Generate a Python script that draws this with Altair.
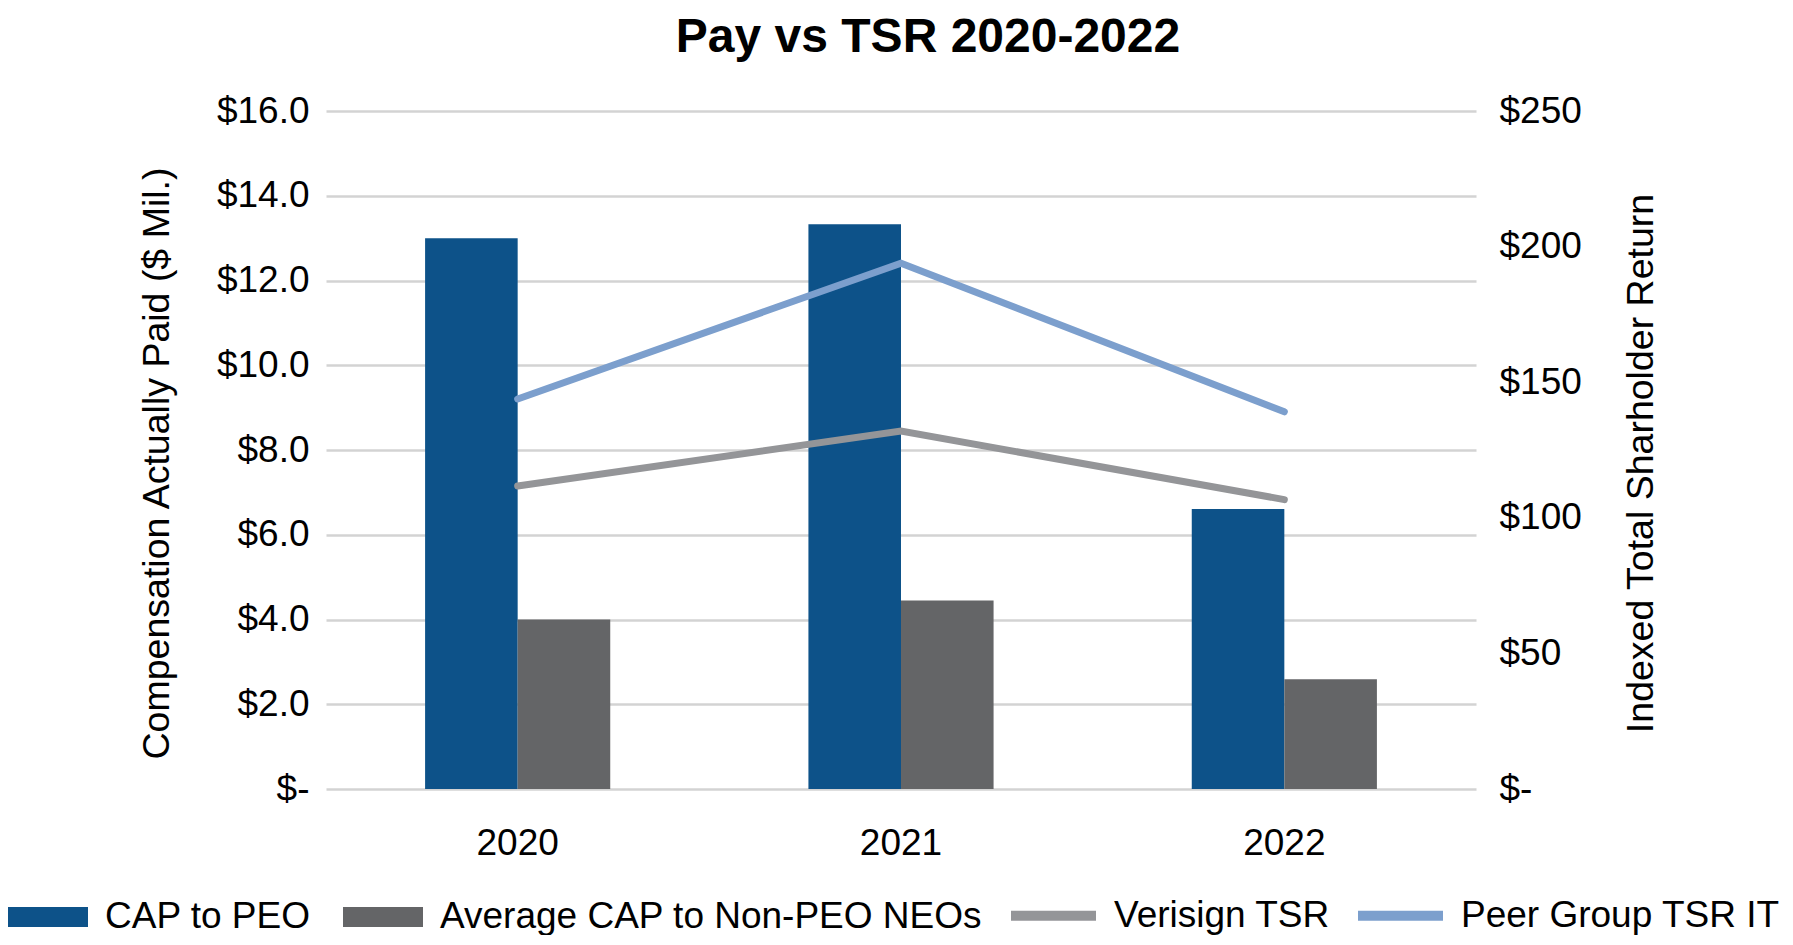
import altair as alt
import pandas as pd

years = ["2020", "2021", "2022"]
bar_series = ["CAP to PEO", "Average CAP to Non-PEO NEOs"]
cap_peo = [13.0, 13.33, 6.61]
cap_non_peo = [4.0, 4.45, 2.59]
line_series = ["Verisign TSR", "Peer Group TSR IT"]
verisign_tsr = [111.7, 132.0, 106.7]
peer_tsr = [143.8, 193.9, 139.1]

bar_colors = ["#0D5289", "#646567"]
line_colors = ["#949598", "#7C9FCD"]

FONT = "Liberation Sans"

bars_df = pd.DataFrame(
    [{"year": y, "series": bar_series[0], "value": v} for y, v in zip(years, cap_peo)]
    + [{"year": y, "series": bar_series[1], "value": v} for y, v in zip(years, cap_non_peo)]
)
lines_df = pd.DataFrame(
    [{"year": y, "series": line_series[0], "value": v} for y, v in zip(years, verisign_tsr)]
    + [{"year": y, "series": line_series[1], "value": v} for y, v in zip(years, peer_tsr)]
)

x_scale = alt.Scale(paddingInner=0.517, paddingOuter=0.2585)
x_axis = alt.Axis(title=None, labelFontSize=37, labelFont=FONT, labelColor="#000000",
                  labelAngle=0, labelPadding=36, ticks=False, domain=False, grid=False)

bars = alt.Chart(bars_df).mark_bar().encode(
    x=alt.X("year:N", scale=x_scale, axis=x_axis, sort=years),
    xOffset=alt.XOffset("series:N", sort=bar_series, scale=alt.Scale(paddingInner=0, paddingOuter=0)),
    y=alt.Y("value:Q", scale=alt.Scale(domain=[0, 16], nice=False),
            axis=alt.Axis(values=[0, 2, 4, 6, 8, 10, 12, 14, 16],
                          labelExpr="datum.value == 0 ? '$-' : '$' + format(datum.value, '.1f')",
                          title="Compensation Actually Paid ($ Mil.)",
                          titleFontSize=37.5, titleFont=FONT, titleFontWeight="normal",
                          titleColor="#000000", titlePadding=40, titleY=352,
                          labelFontSize=37, labelFont=FONT, labelColor="#000000",
                          labelPadding=17, ticks=False, domain=False,
                          grid=True, gridColor="#D3D3D3", gridWidth=2.3, orient="left")),
    color=alt.Color("series:N", sort=bar_series,
                    scale=alt.Scale(domain=bar_series, range=bar_colors),
                    legend=alt.Legend(title=None, orient="none", legendX=-318, legendY=766,
                                      direction="horizontal", padding=0,
                                      symbolType="M-1,-0.25H1V0.25H-1Z", symbolSize=6400,
                                      symbolStrokeWidth=0, symbolOpacity=1,
                                      labelFontSize=37, labelFont=FONT, labelColor="#000000",
                                      labelOffset=17, columnPadding=32, labelLimit=1000)),
)

lines = alt.Chart(lines_df).mark_line(strokeWidth=7, strokeCap="round").encode(
    x=alt.X("year:N", scale=x_scale, axis=x_axis, sort=years),
    y=alt.Y("value:Q", scale=alt.Scale(domain=[0, 250], nice=False),
            axis=alt.Axis(values=[0, 50, 100, 150, 200, 250],
                          labelExpr="datum.value == 0 ? '$-' : '$' + format(datum.value, 'd')",
                          title="Indexed Total Sharholder Return",
                          titleFontSize=37.5, titleFont=FONT, titleFontWeight="normal",
                          titleColor="#000000", titlePadding=79, titleAngle=270, titleY=352,
                          labelFontSize=37, labelFont=FONT, labelColor="#000000",
                          labelPadding=23, ticks=False, domain=False,
                          grid=False, orient="right")),
    stroke=alt.Stroke("series:N", sort=line_series,
                      scale=alt.Scale(domain=line_series, range=line_colors),
                      legend=alt.Legend(title=None, orient="none", legendX=680, legendY=757,
                                        direction="horizontal", padding=0,
                                        symbolType="stroke", symbolSize=7225,
                                        symbolStrokeWidth=10,
                                        labelFontSize=37, labelFont=FONT, labelColor="#000000",
                                        labelOffset=13, columnPadding=8, labelLimit=1000)),
)

chart = alt.layer(bars, lines).resolve_scale(
    y="independent", color="independent", stroke="independent"
).properties(
    width=1150,
    height=678,
    autosize=alt.AutoSizeParams(type="none"),
    padding={"left": 318, "top": 103, "right": 309, "bottom": 146},
    background="white",
    title=alt.TitleParams("Pay vs TSR 2020-2022", fontSize=48, font=FONT, fontWeight="bold",
                          color="#000000", anchor="middle", dx=27, offset=30),
).configure_view(stroke=None)

chart.save("out.html", embed_options={"renderer": "svg", "actions": False})
